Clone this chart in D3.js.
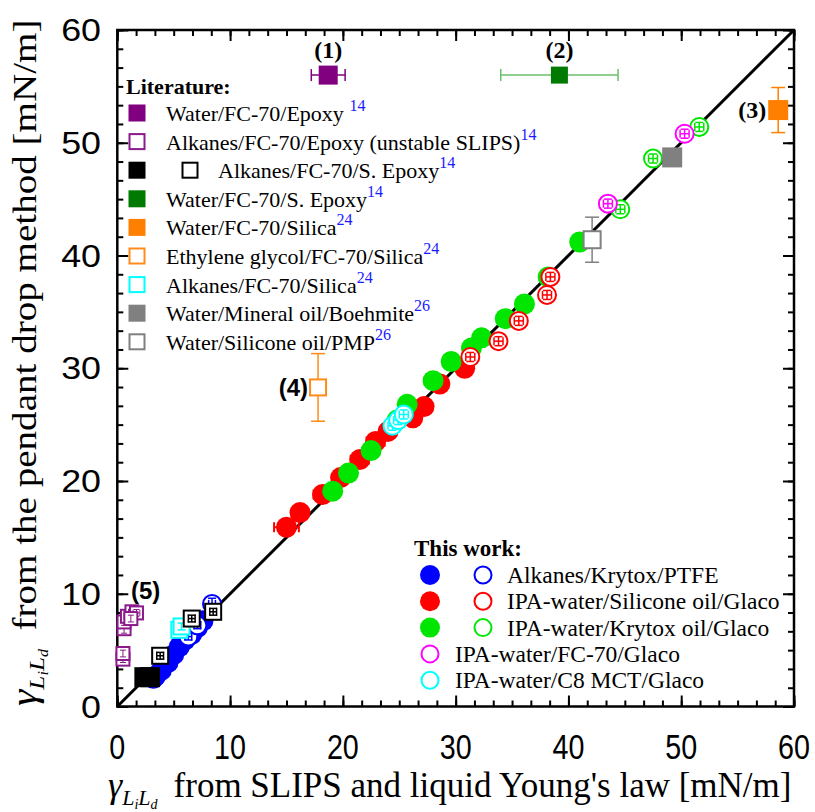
<!DOCTYPE html>
<html>
<head>
<meta charset="utf-8">
<script src="https://cdn.jsdelivr.net/npm/d3@7"></script>
<style>
  body { margin: 0; background: #fff; }
  svg { display: block; }
</style>
</head>
<body>
<svg id="chart" width="815" height="812"></svg>
<script>
// axis ticks
const majorTicks = [0, 10, 20, 30, 40, 50, 60];
const minorStep = 10 / 6;

// literature points: [x, y, xErr, yErr]
const waterEpoxy = [[18.7, 56.0, 1.5, 0]];
const alkanesEpoxyUnstable = [[0.5, 4.2, 0, 0.3], [0.5, 4.7, 0, 0.3], [0.6, 6.9, 0, 0.4], [0.6, 7.5, 0, 0.3],
  [0.9, 8.0, 0.3, 0.3], [1.3, 8.4, 0.3, 0], [1.7, 8.3, 0.3, 0.3], [1.2, 7.8, 0, 0.3]];
const alkanesSEpoxyFilled = [[2.4, 2.6, 0, 0], [2.9, 2.6, 0, 0]];
const alkanesSEpoxyOpen = [[3.8, 4.5, 0.3, 0.3], [6.6, 7.8, 0.3, 0.3], [8.5, 8.4, 0.3, 0.3]];
const waterSEpoxy = [[39.2, 56.0, 5.2, 0]];
const waterSilica = [[58.6, 52.9, 0, 2.0]];
const glycolSilica = [[17.8, 28.3, 0, 3.0]];
const alkanesSilica = [[5.5, 6.8, 0, 0.3], [5.7, 7.1, 0, 0.3]];
const waterBoehmite = [[49.2, 48.7, 0, 0]];
const waterPMP = [[42.1, 41.4, 0, 2.0]];

// this work: [x, y, xErr, yErr]
const alkanesKrytoxFilled = [[3.2, 2.5, 0, 0], [3.4, 2.7, 0, 0], [3.9, 3.2, 0, 0], [4.5, 3.9, 0, 0], [5.0, 4.6, 0, 0],
  [5.5, 5.3, 0, 0], [6.0, 5.9, 0, 0], [6.6, 6.4, 0, 0], [7.1, 7.0, 0, 0], [7.6, 7.6, 0, 0]];
const alkanesKrytoxOpen = [[6.3, 6.2, 0.3, 0.3], [7.1, 7.2, 0.3, 0.3], [8.4, 9.1, 0.3, 0.5]];
const siliconeFilled = [[15.0, 15.9, 1.1, 0], [16.2, 17.2, 0, 0], [18.2, 18.8, 0.8, 0], [19.8, 20.3, 0, 0],
  [21.5, 21.9, 0.8, 0], [22.9, 23.5, 0.8, 0], [24.0, 24.4, 0, 0], [26.2, 25.6, 0, 0], [27.2, 26.6, 0, 0],
  [28.6, 28.6, 0, 0], [30.8, 30.0, 0, 0]];
const siliconeOpen = [[31.3, 31.0, 0.4, 0.4], [33.8, 32.4, 0.4, 0.4], [35.6, 34.2, 0.4, 0.4],
  [38.1, 36.5, 0.4, 0.4], [38.4, 38.1, 0.4, 0.4]];
const krytoxGlacoFilled = [[19.1, 19.1, 0, 0], [20.5, 20.7, 0, 0], [22.5, 22.7, 0, 0], [25.7, 26.8, 0, 0],
  [28.0, 28.9, 0, 0], [29.6, 30.6, 0, 0], [31.4, 31.8, 0, 0], [32.3, 32.7, 0, 0], [34.4, 34.4, 0, 0],
  [36.1, 35.7, 0, 0], [38.2, 38.1, 0, 0], [41.0, 41.2, 0, 0], [24.8, 25.4, 0, 0]];
const krytoxGlacoOpen = [[44.6, 44.1, 0.4, 0.4], [47.5, 48.6, 0.4, 0.4], [51.6, 51.4, 0.4, 0.4]];
const fc70Glaco = [[43.5, 44.6, 0.4, 0.4], [50.3, 50.8, 0.4, 0.4]];
const c8Glaco = [[24.4, 24.9, 0.4, 0.4], [24.9, 25.4, 0.4, 0.4], [25.4, 25.9, 0.4, 0.4]];

const svg = d3.select('#chart');
const x = d3.scaleLinear().domain([0, 60]).range([117.3, 794]);
const y = d3.scaleLinear().domain([0, 60]).range([706.5, 30]);

const serif = '"Liberation Serif", "Times New Roman", serif';
const sans = '"Liberation Sans", Arial, sans-serif';

// minor + major ticks on all four sides, pointing inward
const minorTicks = d3.range(0, 60.001, minorStep);
function addAxis(axisFn, scale, transform, ticks, size) {
  const g = svg.append('g')
    .attr('transform', transform)
    .call(axisFn(scale).tickValues(ticks).tickSize(size).tickSizeOuter(0).tickFormat(''));
  g.select('.domain').remove();
  g.selectAll('line').attr('stroke', '#000').attr('stroke-width', 2);
}
[[minorTicks, -6], [majorTicks, -11]].forEach(([t, s]) => {
  addAxis(d3.axisBottom, x, 'translate(0,706.5)', t, s);
  addAxis(d3.axisTop, x, 'translate(0,30)', t, s);
  addAxis(d3.axisLeft, y, 'translate(117.3,0)', t, s);
  addAxis(d3.axisRight, y, 'translate(794,0)', t, s);
});

svg.append('rect')
  .attr('x', x(0)).attr('y', y(60))
  .attr('width', x(60) - x(0)).attr('height', y(0) - y(60))
  .attr('fill', 'none').attr('stroke', '#000').attr('stroke-width', 2.5);

// tick labels (x labels look condensed, y labels wide in the original)
svg.append('g').selectAll('text').data(majorTicks).join('text')
  .attr('transform', d => `translate(${x(d)},759) scale(0.82,1)`)
  .attr('text-anchor', 'middle')
  .attr('font-family', sans).attr('font-size', 35)
  .text(d => d);
svg.append('g').selectAll('text').data(majorTicks).join('text')
  .attr('transform', d => `translate(101,${y(d) + 11}) scale(1.12,1)`)
  .attr('text-anchor', 'end')
  .attr('font-family', sans).attr('font-size', 32)
  .text(d => d);

// axis titles with gamma_{L_i L_d}
function gammaTitle(t, rest, size) {
  t.attr('font-family', serif).attr('font-size', size);
  t.append('tspan').attr('font-style', 'italic').attr('font-size', 36).text('γ');
  t.append('tspan').attr('font-style', 'italic').attr('font-size', 22).attr('dy', 8).text('L');
  t.append('tspan').attr('font-style', 'italic').attr('font-size', 14).attr('dy', 4).text('i');
  t.append('tspan').attr('font-style', 'italic').attr('font-size', 22).attr('dy', -4).text('L');
  t.append('tspan').attr('font-style', 'italic').attr('font-size', 14).attr('dy', 4).text('d');
  t.append('tspan').attr('dy', -12).attr('dx', 16).text(rest);
}
gammaTitle(svg.append('text').attr('x', 108).attr('y', 797), "from SLIPS and liquid Young's law [mN/m]", 35);
gammaTitle(svg.append('text').attr('transform', 'translate(36,706) rotate(-90) scale(1.15,1)'),
  'from the pendant drop method [mN/m]', 34);

// diagonal y = x
svg.append('line')
  .attr('x1', x(0)).attr('y1', y(0)).attr('x2', x(60)).attr('y2', y(60))
  .attr('stroke', '#000').attr('stroke-width', 3);

// marker helper
function marker(g, shape, cx, cy, fill, stroke, size) {
  if (shape === 'circle') {
    g.append('circle').attr('cx', cx).attr('cy', cy).attr('r', size / 2)
      .attr('fill', fill).attr('stroke', stroke).attr('stroke-width', fill === '#fff' ? 2 : 0);
  } else {
    g.append('rect').attr('x', cx - size / 2).attr('y', cy - size / 2)
      .attr('width', size).attr('height', size)
      .attr('fill', fill).attr('stroke', stroke).attr('stroke-width', fill === '#fff' ? 2 : 0);
  }
}

function errorBars(g, d, color, cap, width) {
  const [vx, vy, ex, ey] = d;
  const e = g.append('g').attr('stroke', color).attr('stroke-width', width);
  if (ex > 0) {
    e.append('line').attr('x1', x(vx - ex)).attr('x2', x(vx + ex)).attr('y1', y(vy)).attr('y2', y(vy));
    [vx - ex, vx + ex].forEach(v => e.append('line')
      .attr('x1', x(v)).attr('x2', x(v)).attr('y1', y(vy) - cap).attr('y2', y(vy) + cap));
  }
  if (ey > 0) {
    e.append('line').attr('x1', x(vx)).attr('x2', x(vx)).attr('y1', y(vy - ey)).attr('y2', y(vy + ey));
    [vy - ey, vy + ey].forEach(v => e.append('line')
      .attr('y1', y(v)).attr('y2', y(v)).attr('x1', x(vx) - cap).attr('x2', x(vx) + cap));
  }
}

function series(data, opt) {
  const g = svg.append('g');
  data.forEach(d => {
    if (opt.errBehind) errorBars(g, d, opt.errColor || opt.stroke, opt.cap || 4, opt.errWidth || 1.5);
    marker(g, opt.shape, x(d[0]), y(d[1]), opt.fill, opt.stroke, opt.size);
    if (!opt.errBehind) errorBars(g, d, opt.errColor || opt.stroke, opt.cap || 4, opt.errWidth || 1.5);
  });
}

// this work
series(alkanesKrytoxFilled, {shape: 'circle', fill: '#0000ff', stroke: '#0000ff', size: 21, errBehind: true});
series(siliconeFilled, {shape: 'circle', fill: '#ff0000', stroke: '#ff0000', size: 21, cap: 5, errWidth: 2, errBehind: true});
series(krytoxGlacoFilled, {shape: 'circle', fill: '#00e600', stroke: '#00e600', size: 21, errBehind: true});
series(alkanesKrytoxOpen, {shape: 'circle', fill: '#fff', stroke: '#0000ff', size: 18});
series(siliconeOpen, {shape: 'circle', fill: '#fff', stroke: '#ff0000', size: 18});
series(krytoxGlacoOpen, {shape: 'circle', fill: '#fff', stroke: '#00e600', size: 18});
series(fc70Glaco, {shape: 'circle', fill: '#fff', stroke: '#ff00ff', size: 18});
series(c8Glaco, {shape: 'circle', fill: '#fff', stroke: '#00ffff', size: 18});

// literature
series(alkanesEpoxyUnstable, {shape: 'square', fill: '#fff', stroke: '#8b1a8b', size: 13, cap: 3, errWidth: 1});
series(alkanesSEpoxyFilled, {shape: 'square', fill: '#000', stroke: '#000', size: 20});
series(alkanesSilica, {shape: 'square', fill: '#fff', stroke: '#00ffff', size: 16});
series(alkanesSEpoxyOpen, {shape: 'square', fill: '#fff', stroke: '#000', size: 16, cap: 4});
series(waterEpoxy, {shape: 'square', fill: '#800080', stroke: '#800080', size: 19, cap: 6, errBehind: true});
series(waterSEpoxy, {shape: 'square', fill: '#007a00', stroke: '#007a00', size: 17, cap: 6, errColor: '#6cbf6c', errWidth: 1.5, errBehind: true});
series(waterSilica, {shape: 'square', fill: '#ff8000', stroke: '#ff8000', size: 20, cap: 7, errBehind: true});
series(glycolSilica, {shape: 'square', fill: '#fff', stroke: '#ff8c1a', size: 16, cap: 7, errBehind: true});
series(waterPMP, {shape: 'square', fill: '#fff', stroke: '#808080', size: 17, cap: 7, errBehind: true});
series(waterBoehmite, {shape: 'square', fill: '#808080', stroke: '#808080', size: 20});

// point labels
const pointLabels = [
  {t: '(1)', p: waterEpoxy[0], dx: 0, dy: -17, f: serif, a: 'middle'},
  {t: '(2)', p: waterSEpoxy[0], dx: 0, dy: -17, f: serif, a: 'middle'},
  {t: '(3)', p: waterSilica[0], dx: -12, dy: 8, f: serif, a: 'end'},
  {t: '(4)', p: glycolSilica[0], dx: -10, dy: 9, f: sans, a: 'end'},
  {t: '(5)', p: alkanesEpoxyUnstable[5], dx: -1, dy: -13, f: sans, a: 'start'}
];
svg.append('g').selectAll('text').data(pointLabels).join('text')
  .attr('x', d => x(d.p[0]) + d.dx).attr('y', d => y(d.p[1]) + d.dy)
  .attr('text-anchor', d => d.a)
  .attr('font-family', d => d.f).attr('font-weight', 'bold')
  .attr('font-size', 24)
  .text(d => d.t);

// legends
function legendText(g, tx, ty, label, sup, size) {
  const t = g.append('text').attr('x', tx).attr('y', ty + 8)
    .attr('font-family', serif).attr('font-size', size).text(label);
  if (sup) t.append('tspan').attr('fill', '#1a1aff').attr('font-size', 16).attr('dy', -10).text(sup);
}

const litLegend = [
  {label: 'Water/FC-70/Epoxy ', sup: '14', fill: '#800080', stroke: '#800080'},
  {label: 'Alkanes/FC-70/Epoxy (unstable SLIPS)', sup: '14', fill: '#fff', stroke: '#8b1a8b'},
  {label: 'Alkanes/FC-70/S. Epoxy', sup: '14', fill: '#000', stroke: '#000', fill2: '#fff'},
  {label: 'Water/FC-70/S. Epoxy', sup: '14', fill: '#007a00', stroke: '#007a00'},
  {label: 'Water/FC-70/Silica', sup: '24', fill: '#ff8000', stroke: '#ff8000'},
  {label: 'Ethylene glycol/FC-70/Silica', sup: '24', fill: '#fff', stroke: '#ff8c1a'},
  {label: 'Alkanes/FC-70/Silica', sup: '24', fill: '#fff', stroke: '#00ffff'},
  {label: 'Water/Mineral oil/Boehmite', sup: '26', fill: '#808080', stroke: '#808080'},
  {label: 'Water/Silicone oil/PMP', sup: '26', fill: '#fff', stroke: '#808080'}
];
const lit = svg.append('g');
lit.append('text').attr('x', 126).attr('y', 94).attr('font-family', serif)
  .attr('font-weight', 'bold').attr('font-size', 22).text('Literature:');
litLegend.forEach((d, i) => {
  const cy = 113 + i * 28.6;
  marker(lit, 'square', 137, cy, d.fill, d.stroke, d.fill === '#fff' ? 15 : 17);
  if (d.fill2) {
    marker(lit, 'square', 190, cy, d.fill2, d.stroke, 15);
    legendText(lit, 218, cy, d.label, d.sup, 22);
  } else {
    legendText(lit, 166, cy, d.label, d.sup, 22);
  }
});

const workLegend = [
  {label: 'Alkanes/Krytox/PTFE', color: '#0000ff', both: true},
  {label: 'IPA-water/Silicone oil/Glaco', color: '#ff0000', both: true},
  {label: 'IPA-water/Krytox oil/Glaco', color: '#00e600', both: true},
  {label: 'IPA-water/FC-70/Glaco', color: '#ff00ff', both: false},
  {label: 'IPA-water/C8 MCT/Glaco', color: '#00ffff', both: false}
];
const work = svg.append('g');
work.append('text').attr('x', 414).attr('y', 556).attr('font-family', serif)
  .attr('font-weight', 'bold').attr('font-size', 23).text('This work:');
workLegend.forEach((d, i) => {
  const cy = 575 + i * 26.3;
  if (d.both) {
    marker(work, 'circle', 430, cy, d.color, d.color, 20);
    marker(work, 'circle', 483, cy, '#fff', d.color, 17);
    legendText(work, 507, cy, d.label, null, 23.5);
  } else {
    marker(work, 'circle', 430, cy, '#fff', d.color, 17);
    legendText(work, 455, cy, d.label, null, 23.5);
  }
});
</script>
</body>
</html>
